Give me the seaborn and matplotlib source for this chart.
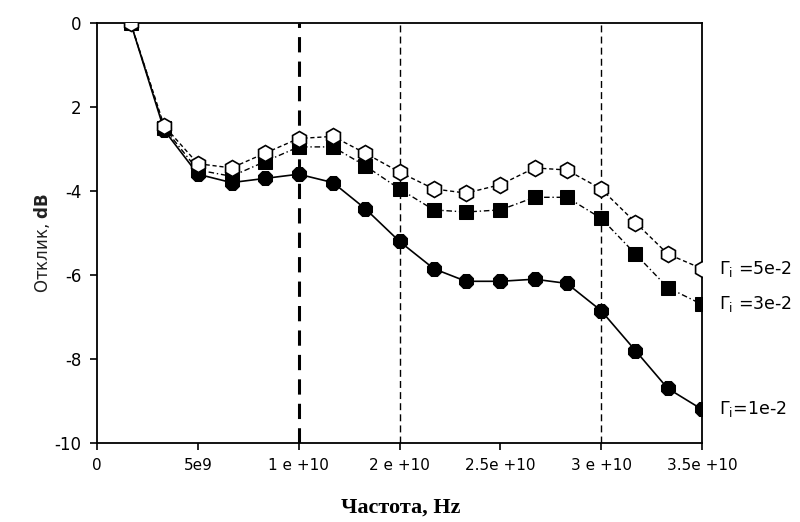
import matplotlib
matplotlib.use("Agg")
import matplotlib.pyplot as plt
import seaborn as sns
import pandas as pd

# ---- data ----
freq = [1.67e9, 3.33e9, 5.0e9, 6.67e9, 8.33e9, 1.0e10, 1.17e10, 1.33e10, 1.5e10,
        1.67e10, 1.83e10, 2.0e10, 2.17e10, 2.33e10, 2.5e10, 2.67e10, 2.83e10, 3.0e10]
resp_5e2 = [0, -2.45, -3.35, -3.45, -3.1, -2.75, -2.7, -3.1, -3.55,
            -3.95, -4.05, -3.85, -3.45, -3.5, -3.95, -4.75, -5.5, -5.85]
resp_3e2 = [0, -2.5, -3.5, -3.65, -3.3, -2.95, -2.95, -3.4, -3.95,
            -4.45, -4.5, -4.45, -4.15, -4.15, -4.65, -5.5, -6.3, -6.7]
resp_1e2 = [0, -2.55, -3.6, -3.8, -3.7, -3.6, -3.8, -4.42, -5.2,
            -5.85, -6.15, -6.15, -6.1, -6.2, -6.85, -7.8, -8.7, -9.2]

x_ticks = [0, 5e9, 1e10, 1.5e10, 2e10, 2.5e10, 3e10]
x_tick_labels = ["0", "5e9", "1 e +10", "2 e +10", "2.5e +10", "3 e +10", "3.5e +10"]
y_ticks = [0, -2, -4, -6, -8, -10]
y_tick_labels = ["0", "2", "-4", "-6", "-8", "-10"]
vlines = [1e10, 1.5e10, 2.5e10]
series_labels = [r"$\Gamma_\mathrm{i}$ =5e-2", r"$\Gamma_\mathrm{i}$ =3e-2", r"$\Gamma_\mathrm{i}$=1e-2"]

df = pd.DataFrame({"freq": freq, "g5": resp_5e2, "g3": resp_3e2, "g1": resp_1e2})

sns.set_theme(style="ticks")
plt.rcParams["font.family"] = ["DejaVu Sans"]
plt.rcParams["text.color"] = "black"
plt.rcParams["xtick.color"] = "black"
plt.rcParams["ytick.color"] = "black"

fig = plt.figure(figsize=(8, 5.22), dpi=100)
ax = fig.add_axes([97 / 800, 1 - 443 / 522, (702 - 97) / 800, (443 - 23) / 522])

# vertical dashed reference lines
for i, xv in enumerate(vlines):
    ax.axvline(xv, color="black", linestyle=(0, (5, 3)), lw=2.2 if i == 0 else 1.0, zorder=1)

sns.lineplot(data=df, x="freq", y="g1", ax=ax, color="black", lw=1.2,
             linestyle="-", marker="8", markersize=10.5,
             markerfacecolor="black", markeredgecolor="black", zorder=3)
sns.lineplot(data=df, x="freq", y="g3", ax=ax, color="black", lw=1.0,
             linestyle=(0, (4, 2, 1, 2)), marker="s", markersize=9.5,
             markerfacecolor="black", markeredgecolor="black", zorder=4)
sns.lineplot(data=df, x="freq", y="g5", ax=ax, color="black", lw=1.0,
             linestyle=(0, (3, 2)), marker="h", markersize=11.5,
             markerfacecolor="white", markeredgecolor="black", markeredgewidth=1.2, zorder=5)

ax.set_xlim(0, 3e10)
ax.set_ylim(-10, 0)
ax.set_xticks(x_ticks)
ax.set_xticklabels(x_tick_labels, fontsize=11, color="black")
ax.set_yticks(y_ticks)
ax.set_yticklabels(y_tick_labels, fontsize=12, color="black")
ax.tick_params(direction="out", length=5, width=1.2, color="black", pad=6)

for sp in ax.spines.values():
    sp.set_visible(True)
    sp.set_color("black")
    sp.set_linewidth(1.3)

ax.set_xlabel("")
ax.set_ylabel("")
fig.text(42 / 800, 1 - 243 / 522, "Отклик, $\\mathbf{dB}$", rotation=90,
         ha="center", va="center", fontsize=12, color="#222222")
fig.text(401 / 800, 1 - 508 / 522, "Частота, Hz", ha="center", va="center",
         fontsize=16, fontweight="bold", family=["Liberation Serif"], color="black")

# series labels at the right end
label_y = [resp_5e2[-1], resp_3e2[-1], resp_1e2[-1]]
for lab, yv in zip(series_labels, label_y):
    ax.annotate(lab, xy=(freq[-1], yv), xytext=(12, 0), textcoords="offset points",
                ha="left", va="center", fontsize=12.5, color="black",
                annotation_clip=False)

fig.savefig("out.png", dpi=100, facecolor="white")
